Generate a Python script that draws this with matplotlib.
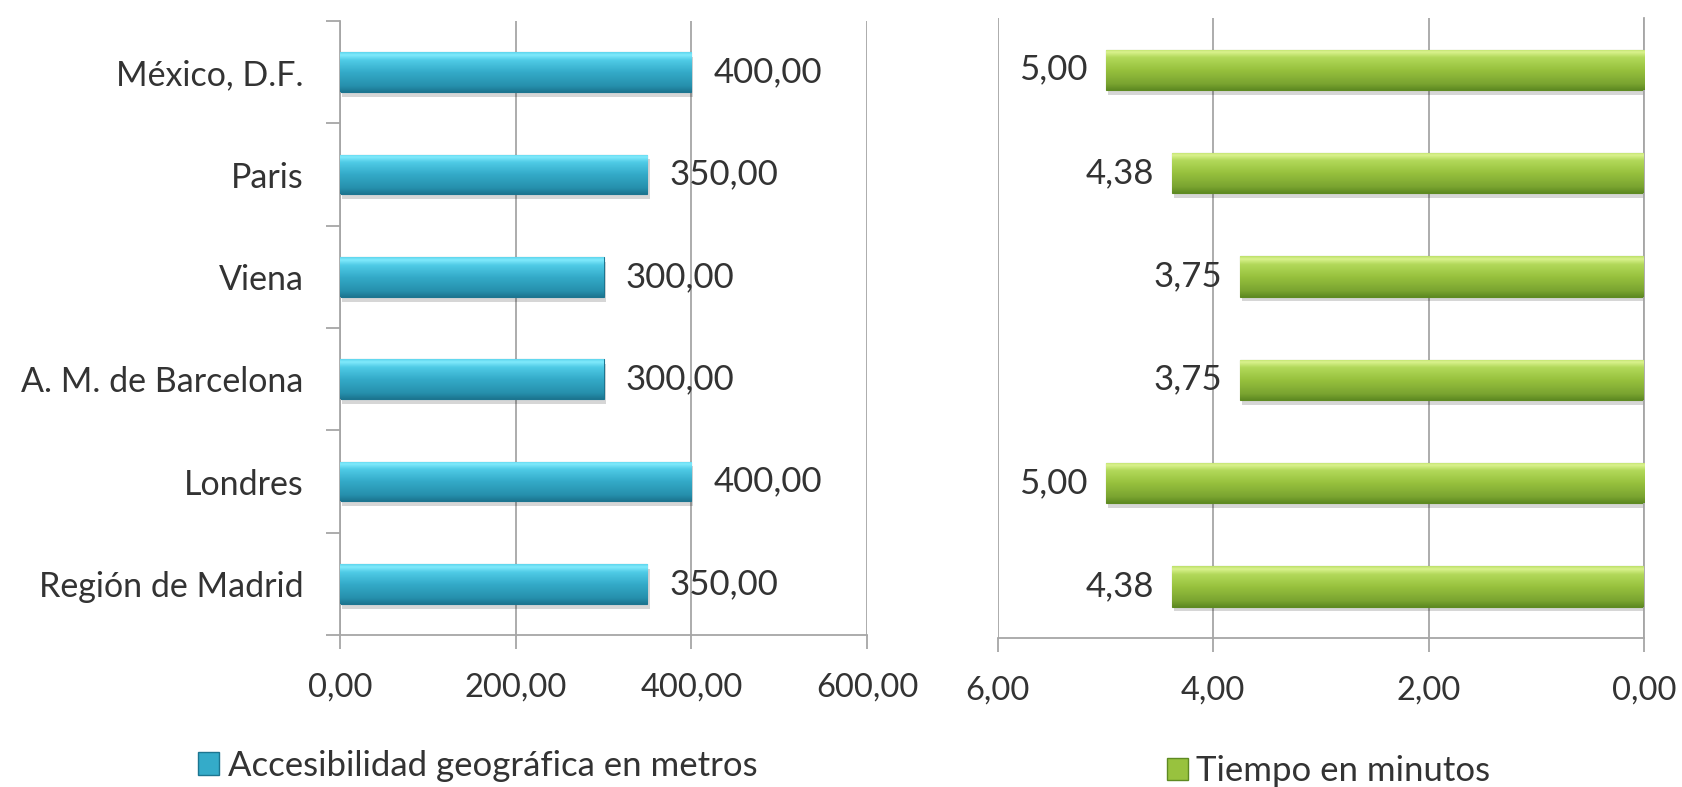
import numpy as np
import matplotlib
matplotlib.use("Agg")
import matplotlib.pyplot as plt
from matplotlib.colors import LinearSegmentedColormap
from matplotlib.patches import Patch
import matplotlib.patheffects as pe

plt.rcParams['font.family'] = ['Lato', 'DejaVu Sans']

categories = ["Región de Madrid", "Londres", "A. M. de Barcelona", "Viena", "Paris", "México, D.F."]
meters = [350, 400, 300, 300, 350, 400]
minutes = [4.38, 5.00, 3.75, 3.75, 4.38, 5.00]
left_ticks = [0, 200, 400, 600]
right_ticks = [6, 4, 2, 0]
legend_left = "Accesibilidad geográfica en metros"
legend_right = "Tiempo en minutos"

TXT = "#333333"
GRID = "#a6a6a6"
FS_CAT = 24.5
FS_TICK = 23.5
FS_VAL = 25
FS_LEG = 25

blue_cmap = LinearSegmentedColormap.from_list(
    "b", [(0, "#1c7590"), (0.15, "#2690ad"), (0.5, "#34abc9"), (0.8, "#4fcbe6"), (0.93, "#80eafc"), (1.0, "#5fd6ee")])
green_cmap = LinearSegmentedColormap.from_list(
    "g", [(0, "#5e8a22"), (0.15, "#7aa430"), (0.5, "#98c23e"), (0.8, "#b2d95a"), (0.93, "#daf28e"), (1.0, "#bde06a")])


def fmt(v):
    return f"{v:.2f}".replace(".", ",")


def gradient_bars(ax, bars, cmap):
    grad = np.linspace(0, 1, 128).reshape(-1, 1)
    for b in bars:
        x0, y0 = b.get_x(), b.get_y()
        w, h = b.get_width(), b.get_height()
        b.set_path_effects([pe.SimplePatchShadow(offset=(1.5, -3.5), shadow_rgbFace="#000000", alpha=0.16), pe.Normal()])
        im = ax.imshow(grad, cmap=cmap, origin="lower", aspect="auto",
                       extent=[x0, x0 + w, y0, y0 + h], zorder=3, interpolation="bilinear")
        im.set_clip_path(b)
    ax.set_aspect("auto")


fig = plt.figure(figsize=(16.82, 7.87), dpi=100)
axL = fig.add_axes([0.2021, 0.1931, 0.3134, 0.7802])
axR = fig.add_axes([0.5933, 0.1893, 0.3841, 0.7878])

y = np.arange(len(categories))

# Left chart
barsL = axL.barh(y, meters, height=0.39, color="#34abc9", edgecolor="#1c7590", linewidth=0.8, zorder=2)
gradient_bars(axL, barsL, blue_cmap)
axL.set_xlim(0, 600)
axL.set_ylim(-0.5, len(categories) - 0.5)
axL.set_xticks(left_ticks)
axL.set_xticklabels([fmt(t) for t in left_ticks], fontsize=FS_TICK, color=TXT)
axL.set_yticks(y)
axL.set_yticklabels(categories, fontsize=FS_CAT, color=TXT)
axL.set_yticks(np.arange(-0.5, len(categories), 1), minor=True)
axL.tick_params(axis="y", which="major", length=0, pad=26)
axL.tick_params(axis="y", which="minor", length=10, color=GRID, width=1.3)
axL.tick_params(axis="x", length=10, color=GRID, width=1.3, pad=17)
axL.grid(axis="x", color=GRID, linewidth=1.3, zorder=0)
axL.set_axisbelow(True)
for s in ["top", "right"]:
    axL.spines[s].set_visible(False)
for s in ["left", "bottom"]:
    axL.spines[s].set_color(GRID)
    axL.spines[s].set_linewidth(1.3)
for b, v in zip(barsL, meters):
    axL.annotate(fmt(v), (b.get_width(), b.get_y() + b.get_height() / 2), xytext=(16, 0),
                 textcoords="offset points", va="center", ha="left", fontsize=FS_VAL, color=TXT, zorder=5)

# Right chart
barsR = axR.barh(y, minutes, height=0.39, color="#98c23e", edgecolor="#5e8a22", linewidth=0.8, zorder=2)
gradient_bars(axR, barsR, green_cmap)
axR.set_xlim(6, 0)
axR.set_ylim(-0.5, len(categories) - 0.5)
axR.set_xticks(right_ticks)
axR.set_xticklabels([fmt(t) for t in right_ticks], fontsize=FS_TICK, color=TXT)
axR.set_yticks([])
axR.tick_params(axis="x", length=10, color=GRID, width=1.3, pad=17)
axR.grid(axis="x", color=GRID, linewidth=1.3, zorder=0)
axR.set_axisbelow(True)
for s in ["top", "left"]:
    axR.spines[s].set_visible(False)
for s in ["right", "bottom"]:
    axR.spines[s].set_color(GRID)
    axR.spines[s].set_linewidth(1.3)
for b, v in zip(barsR, minutes):
    axR.annotate(fmt(v), (b.get_width(), b.get_y() + b.get_height() / 2), xytext=(-13, 0),
                 textcoords="offset points", va="center", ha="right", fontsize=FS_VAL, color=TXT, zorder=5)

# Legends
fig.legend(handles=[Patch(facecolor="#34abc9", edgecolor="#1c7590")], labels=[legend_left],
           loc="center", bbox_to_anchor=(0.284, 0.027), frameon=False, fontsize=FS_LEG,
           handlelength=0.6, handleheight=0.6, handletextpad=0.25, labelcolor=TXT)
fig.legend(handles=[Patch(facecolor="#98c23e", edgecolor="#5e8a22")], labels=[legend_right],
           loc="center", bbox_to_anchor=(0.790, 0.020), frameon=False, fontsize=FS_LEG,
           handlelength=0.6, handleheight=0.6, handletextpad=0.25, labelcolor=TXT)

fig.savefig("out.png", dpi=100)
